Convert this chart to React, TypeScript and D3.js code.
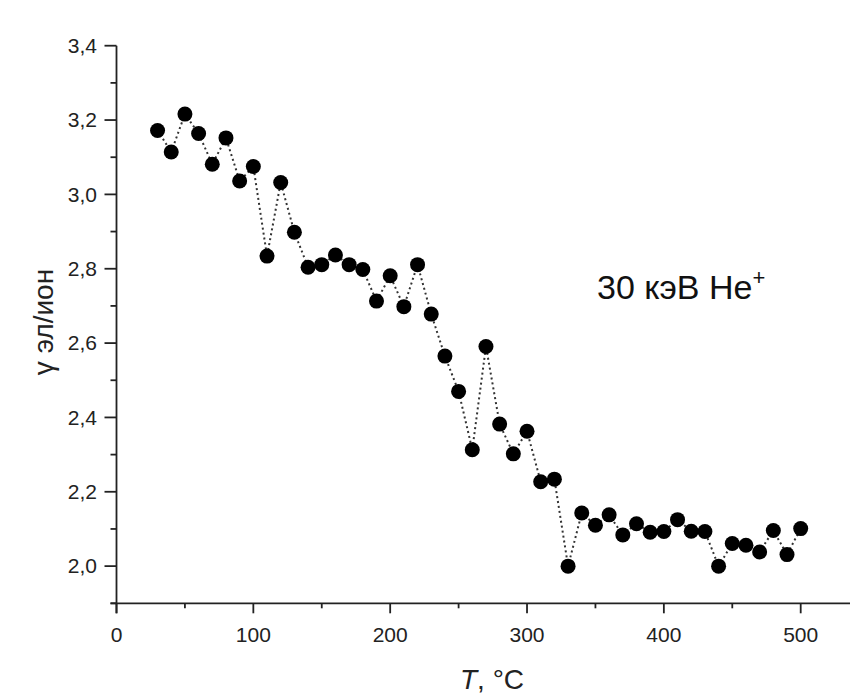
import React from 'react';
import * as d3 from 'd3';

// Temperature steps (°C) and measured yield γ (electrons / ion)
const temps = [
  30, 40, 50, 60, 70, 80, 90, 100, 110, 120, 130, 140, 150, 160, 170, 180,
  190, 200, 210, 220, 230, 240, 250, 260, 270, 280, 290, 300, 310, 320, 330, 340,
  350, 360, 370, 380, 390, 400, 410, 420, 430, 440, 450, 460, 470, 480, 490, 500,
];
const gamma = [
  3.172, 3.114, 3.216, 3.164, 3.081, 3.152, 3.036, 3.075, 2.834, 3.032, 2.898, 2.804, 2.811, 2.837, 2.811, 2.798,
  2.713, 2.781, 2.698, 2.811, 2.678, 2.565, 2.470, 2.313, 2.591, 2.382, 2.302, 2.363, 2.227, 2.234, 2.000, 2.143,
  2.110, 2.138, 2.084, 2.114, 2.091, 2.093, 2.125, 2.094, 2.093, 2.000, 2.061, 2.056, 2.038, 2.096, 2.031, 2.101,
];

const xTicks = [0, 100, 200, 300, 400, 500];
const xMinorTicks = [50, 150, 250, 350, 450];
const yTicks = [2.0, 2.2, 2.4, 2.6, 2.8, 3.0, 3.2, 3.4];
const yMinorTicks = [1.9, 2.1, 2.3, 2.5, 2.7, 2.9, 3.1, 3.3];

const W = 850;
const H = 695;
const FONT = '"Liberation Sans", Arial, sans-serif';
const INK = '#222';

export default function App() {
  const x = d3.scaleLinear().domain([0, 500]).range([116.5, 800.7]);
  const y = d3.scaleLinear().domain([1.9, 3.4]).range([603.3, 45.7]);

  const pts = temps.map((t, i) => [t, gamma[i]] as [number, number]);
  const line = d3.line<[number, number]>()
    .x(d => x(d[0]))
    .y(d => y(d[1]));

  const x0 = x(0);
  const yBase = y(1.9);
  const fmt = (v: number) => v.toFixed(1).replace('.', ',');

  return (
    <svg width={W} height={H} style={{ position: 'absolute', left: 0, top: 0, background: '#fff' }}>
      {/* data line + markers */}
      <path d={line(pts) || ''} fill="none" stroke="#333" strokeWidth={2} strokeDasharray="2,3" />
      {pts.map((d, i) => (
        <circle key={i} cx={x(d[0])} cy={y(d[1])} r={7.5} fill="#000" />
      ))}

      {/* y axis */}
      <line x1={x0} x2={x0} y1={y(3.4)} y2={yBase + 10} stroke={INK} strokeWidth={1.8} />
      {yTicks.map(v => (
        <g key={v}>
          <line x1={x0 - 12} x2={x0} y1={y(v)} y2={y(v)} stroke={INK} strokeWidth={1.8} />
          <text x={97} y={y(v)} dy="0.35em" textAnchor="end" fontFamily={FONT} fontSize={21} fill={INK}>
            {fmt(v)}
          </text>
        </g>
      ))}
      {yMinorTicks.map(v => (
        <line key={v} x1={x0 - 6} x2={x0} y1={y(v)} y2={y(v)} stroke={INK} strokeWidth={1.8} />
      ))}

      {/* x axis */}
      <line x1={x0 - 6} x2={W} y1={yBase} y2={yBase} stroke={INK} strokeWidth={1.8} />
      {xTicks.map(v => (
        <g key={v}>
          <line x1={x(v)} x2={x(v)} y1={yBase} y2={yBase + 10} stroke={INK} strokeWidth={1.8} />
          <text x={x(v)} y={642} textAnchor="middle" fontFamily={FONT} fontSize={21} fill={INK}>
            {v}
          </text>
        </g>
      ))}
      {xMinorTicks.map(v => (
        <line key={v} x1={x(v)} x2={x(v)} y1={yBase} y2={yBase + 5} stroke={INK} strokeWidth={1.8} />
      ))}

      {/* axis titles */}
      <text x={460} y={689} fontFamily={FONT} fontSize={28} fill={INK}>
        <tspan fontStyle="italic">T</tspan>, °C
      </text>
      <text
        transform="translate(53,322) rotate(-90)"
        textAnchor="middle"
        fontFamily={FONT}
        fontSize={28}
        fill={INK}
      >
        γ эл/ион
      </text>

      {/* annotation */}
      <text x={597} y={299} fontFamily={FONT} fontSize={34} fill="#111">
        30 кэВ He<tspan fontSize={22} dy={-14}>+</tspan>
      </text>
    </svg>
  );
}
